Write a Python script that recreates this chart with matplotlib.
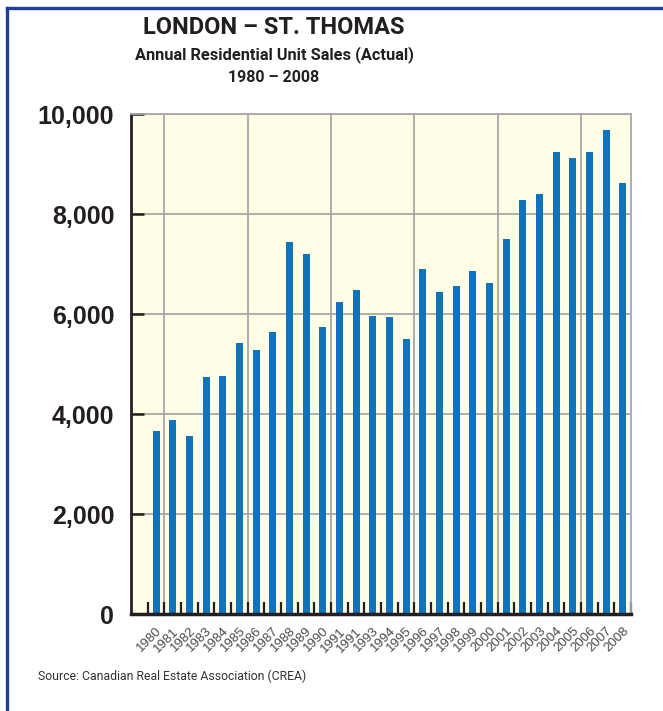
import matplotlib
matplotlib.use("Agg")
import matplotlib.pyplot as plt
from matplotlib.lines import Line2D
import numpy as np

# data (label typo "1991" twice is in the original)
years = ["1980", "1981", "1982", "1983", "1984", "1985", "1986", "1987",
         "1988", "1989", "1990", "1991", "1991", "1993", "1994", "1995",
         "1996", "1997", "1998", "1999", "2000", "2001", "2002", "2003",
         "2004", "2005", "2006", "2007", "2008"]
sales = [3660, 3880, 3560, 4740, 4760, 5420, 5280, 5640,
         7440, 7200, 5740, 6240, 6480, 5960, 5940, 5500,
         6900, 6440, 6560, 6860, 6620, 7500, 8280, 8400,
         9240, 9120, 9240, 9680, 8620]
y_ticks = [0, 2000, 4000, 6000, 8000, 10000]

narrow = ["Roboto", "DejaVu Sans"]
plain = ["Liberation Sans", "DejaVu Sans"]

fig = plt.figure(figsize=(6.63, 7.11), dpi=100)
ax = fig.add_axes([131/663, 1 - 614/711, 500/663, 500/711])
ax.set_facecolor("#FFFDE6")

x = np.arange(len(years))
ax.bar(x, sales, width=0.42, color="#1073BB", zorder=3)

ax.set_xlim(-1.5, len(years) - 0.5)
ax.set_ylim(0, 10000)

# grid
ax.set_yticks(y_ticks)
ax.yaxis.grid(True, color="#A7A7A7", linewidth=1.3, zorder=1)
for gx in np.arange(0.5, len(years), 5):
    ax.axvline(gx, color="#A7A7A7", linewidth=1.3, zorder=1)

# x: labels at bar centres, tick marks at boundaries
ax.set_xticks(x)
ax.set_xticklabels(years, rotation=45, ha="right", rotation_mode="anchor",
                   fontsize=9.5, color="#4A4A4A", family=plain)
ax.tick_params(axis="x", which="major", length=0, pad=8)
ax.set_xticks(np.arange(-0.5, len(years)), minor=True)
ax.tick_params(axis="x", which="minor", direction="in", length=9,
               width=1.6, color="#231F20")

ax.set_yticklabels(["{:,}".format(v) for v in y_ticks])
for lbl in ax.get_yticklabels():
    lbl.set_fontsize(18)
    lbl.set_fontweight("bold")
    lbl.set_family(plain)
    lbl.set_color("#231F20")
ax.tick_params(axis="y", direction="in", length=9, width=1.8,
               color="#231F20", pad=12)

for side in ["top", "right"]:
    ax.spines[side].set_color("#A7A7A7")
    ax.spines[side].set_linewidth(1.3)
ax.spines["left"].set_color("#231F20")
ax.spines["left"].set_linewidth(2.0)
ax.spines["bottom"].set_color("#231F20")
ax.spines["bottom"].set_linewidth(2.5)
for s in ax.spines.values():
    s.set_zorder(4)

# titles
cx = 274 / 663
fig.text(cx, 1 - 28/711, "LONDON \u2013 ST. THOMAS", ha="center", va="center",
         fontsize=17, fontweight="bold", family=narrow, color="#231F20")
fig.text(cx, 1 - 55/711, "Annual Residential Unit Sales (Actual)", ha="center",
         va="center", fontsize=11.8, fontweight="bold", family=narrow, color="#231F20")
fig.text(cx, 1 - 78/711, "1980 \u2013 2008", ha="center", va="center",
         fontsize=11.5, fontweight="bold", family=narrow, color="#231F20")
fig.text(38/663, 1 - 676/711, "Source: Canadian Real Estate Association (CREA)",
         ha="left", va="center", fontsize=8.8, family=narrow, color="#333333")

# blue frame on top and left
fig.add_artist(Line2D([6.5/663, 1], [1 - 8/711, 1 - 8/711], transform=fig.transFigure,
                      color="#1F3F95", linewidth=2.4))
fig.add_artist(Line2D([6.5/663, 6.5/663], [0, 1 - 8/711], transform=fig.transFigure,
                      color="#1F3F95", linewidth=2.4))

fig.savefig("out.png", dpi=100)
